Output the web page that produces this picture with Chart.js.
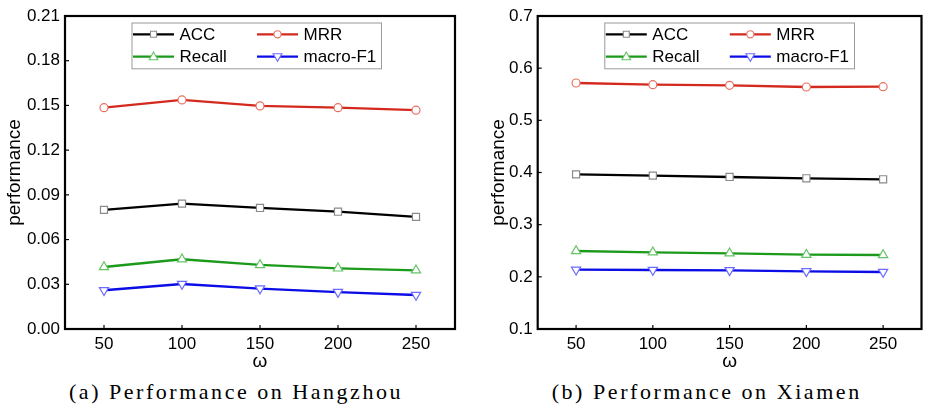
<!DOCTYPE html>
<html><head><meta charset="utf-8">
<script src="https://cdn.jsdelivr.net/npm/chart.js@4"></script>
<style>
html,body{margin:0;padding:0;background:#fff;width:928px;height:410px;overflow:hidden}
.wrap{position:absolute;top:0;width:464px;height:372px}
canvas{display:block}
.cap{position:absolute;font-family:"Liberation Serif","DejaVu Serif",serif;font-size:22px;line-height:22px;white-space:nowrap;color:#000}
</style></head><body>
<div class="wrap" style="left:0"><canvas id="c1" width="464" height="372" style="width:464px;height:372px"></canvas></div>
<div class="wrap" style="left:464px"><canvas id="c2" width="464" height="372" style="width:464px;height:372px"></canvas></div>
<div class="cap" id="cap1">(a) Performance on Hangzhou</div>
<div class="cap" id="cap2">(b) Performance on Xiamen</div>
<script>
// ---- data ----
const xValues = [50, 100, 150, 200, 250];
const seriesNames = ['ACC', 'MRR', 'Recall', 'macro-F1'];

const hzACC    = [0.0799, 0.0841, 0.0812, 0.0787, 0.0752];
const hzMRR    = [0.1485, 0.1537, 0.1497, 0.1485, 0.1468];
const hzRecall = [0.0416, 0.0468, 0.0430, 0.0407, 0.0394];
const hzF1     = [0.0260, 0.0302, 0.0271, 0.0248, 0.0228];

const xmACC    = [0.3965, 0.3939, 0.3914, 0.3889, 0.3870];
const xmMRR    = [0.5716, 0.5684, 0.5672, 0.5639, 0.5645];
const xmRecall = [0.2495, 0.2470, 0.2451, 0.2425, 0.2419];
const xmF1     = [0.2137, 0.2131, 0.2125, 0.2105, 0.2093];

const hzYTicks = [0, 0.03, 0.06, 0.09, 0.12, 0.15, 0.18, 0.21];
const xmYTicks = [0.1, 0.2, 0.3, 0.4, 0.5, 0.6, 0.7];
const xTickLabels = xValues;

const yTitle = 'performance';
const xTitle = 'ω';

// ---- styles ----
const FONT = '"Liberation Sans", Arial, sans-serif';
const styles = {
  'ACC':      {line: '#000000', mk: '#8a8a8a', shape: 'rect',     r: 5,   rot: 0},
  'MRR':      {line: '#d42a1e', mk: '#e8705f', shape: 'circle',   r: 4,   rot: 0},
  'Recall':   {line: '#1c9a1c', mk: '#66c466', shape: 'triangle', r: 5.3, rot: 0},
  'macro-F1': {line: '#0c0ce6', mk: '#6b6bff', shape: 'triangle', r: 5.3, rot: 180}
};

function makeDatasets(arrs) {
  return seriesNames.map((n, i) => {
    const s = styles[n];
    return {
      label: n,
      data: xValues.map((x, j) => ({x: x, y: arrs[i][j]})),
      borderColor: s.line,
      borderWidth: 2.3,
      pointStyle: s.shape,
      pointRadius: s.r,
      pointRotation: s.rot,
      pointBorderColor: s.mk,
      pointBackgroundColor: '#ffffff',
      pointBorderWidth: 1.2,
      tension: 0,
      fill: false
    };
  });
}

function drawMarker(ctx, s, x, y, r) {
  ctx.save();
  ctx.strokeStyle = s.mk; ctx.fillStyle = '#fff'; ctx.lineWidth = 1.1;
  ctx.beginPath();
  if (s.shape === 'rect') {
    ctx.rect(x - r, y - r, 2 * r, 2 * r);
  } else if (s.shape === 'circle') {
    ctx.arc(x, y, r, 0, Math.PI * 2);
  } else {
    const d = s.rot ? -1 : 1;
    ctx.moveTo(x, y - d * r);
    ctx.lineTo(x - r * 0.95, y + d * r * 0.65);
    ctx.lineTo(x + r * 0.95, y + d * r * 0.65);
    ctx.closePath();
  }
  ctx.fill(); ctx.stroke();
  ctx.restore();
}

const decorPlugin = {
  id: 'decor',
  afterDatasetsDraw(chart, args, opts) {
    const ctx = chart.ctx, a = chart.chartArea;
    const xs = chart.scales.x, ys = chart.scales.y;
    ctx.save();
    // inward ticks
    ctx.strokeStyle = '#000'; ctx.lineWidth = 1.2;
    opts.yTicks.forEach(v => {
      const py = ys.getPixelForValue(v);
      ctx.beginPath(); ctx.moveTo(a.left, py); ctx.lineTo(a.left + 4, py); ctx.stroke();
    });
    xValues.forEach(v => {
      const px = xs.getPixelForValue(v);
      ctx.beginPath(); ctx.moveTo(px, a.bottom); ctx.lineTo(px, a.bottom - 4); ctx.stroke();
    });
    // frame
    ctx.lineWidth = 2.2;
    ctx.strokeRect(a.left, a.top, a.right - a.left, a.bottom - a.top);
    // legend
    const L = opts.legend;
    ctx.lineWidth = 1; ctx.strokeStyle = '#9a9a9a';
    ctx.strokeRect(L.x + 0.5, L.y + 0.5, L.w, L.h);
    ctx.font = '17px ' + FONT;
    ctx.textBaseline = 'middle'; ctx.textAlign = 'left';
    const rows = [L.y + 11.8, L.y + 34.2];
    const cols = [L.x + 1.5, L.x + 125.5];
    seriesNames.forEach((n, i) => {
      const s = styles[n];
      const cx = cols[i % 2], cy = rows[Math.floor(i / 2)];
      ctx.strokeStyle = s.line; ctx.lineWidth = 2.3;
      ctx.beginPath(); ctx.moveTo(cx, cy); ctx.lineTo(cx + 41, cy); ctx.stroke();
      drawMarker(ctx, s, cx + 20.5, cy, s.shape === 'circle' ? 3.6 : (s.shape === 'rect' ? 3 : 4.6));
      ctx.fillStyle = '#000';
      ctx.fillText(n, cx + 46.5, cy + 1);
    });
    // axis titles
    ctx.fillStyle = '#000';
    ctx.font = '19px ' + FONT;
    ctx.textAlign = 'center'; ctx.textBaseline = 'middle';
    ctx.save();
    ctx.translate(opts.yTitleX, (a.top + a.bottom) / 2);
    ctx.rotate(-Math.PI / 2);
    ctx.fillText(yTitle, 0, 0);
    ctx.restore();
    ctx.fillText(xTitle, (a.left + a.right) / 2, 362);
    ctx.restore();
  }
};

function makeChart(id, arrs, yTicks, yMin, yMax, dec, yWidth, padRight, legendBox, yTitleX) {
  return new Chart(document.getElementById(id), {
    type: 'line',
    data: {datasets: makeDatasets(arrs)},
    options: {
      responsive: false, animation: false, devicePixelRatio: 1,
      layout: {padding: {top: 16, right: padRight, left: 0, bottom: 0}},
      plugins: {
        legend: {display: false}, tooltip: {enabled: false},
        decor: {yTicks: yTicks, legend: legendBox, yTitleX: yTitleX}
      },
      scales: {
        x: {
          type: 'linear', min: 25, max: 275,
          afterBuildTicks: s => { s.ticks = xTickLabels.map(v => ({value: v})); },
          afterFit: s => { s.height = 43; },
          grid: {display: false, drawTicks: false}, border: {display: false},
          ticks: {padding: 5, color: '#000', font: {family: FONT, size: 17}, maxRotation: 0, autoSkip: false,
                  callback: v => String(v)}
        },
        y: {
          type: 'linear', min: yMin, max: yMax,
          afterBuildTicks: s => { s.ticks = yTicks.map(v => ({value: v})); },
          afterFit: s => { s.width = yWidth; },
          grid: {display: false, drawTicks: false}, border: {display: false},
          ticks: {padding: 5, color: '#000', font: {family: FONT, size: 17}, autoSkip: false,
                  callback: v => Number(v).toFixed(dec)}
        }
      }
    },
    plugins: [decorPlugin]
  });
}

makeChart('c1', [hzACC, hzMRR, hzRecall, hzF1], hzYTicks, 0, 0.21, 2, 65, 9,
          {x: 131.5, y: 22.5, w: 249.5, h: 45.8}, 15);
makeChart('c2', [xmACC, xmMRR, xmRecall, xmF1], xmYTicks, 0.1, 0.7, 1, 73.7, 1.5,
          {x: 140.3, y: 22.5, w: 249.7, h: 45.8}, 35);

// captions
function placeCap(id, left, targetW, baseline) {
  const el = document.getElementById(id);
  const c = document.createElement('canvas').getContext('2d');
  c.font = '22px "Liberation Serif"';
  const txt = el.textContent;
  const w = c.measureText(txt).width;
  const ls = Math.max(0, (targetW - w) / txt.length);
  el.style.letterSpacing = ls + 'px';
  el.style.left = left + 'px';
  el.style.top = (baseline - 18.5) + 'px';
}
placeCap('cap1', 69, 334, 399);
placeCap('cap2', 551.7, 310, 399);
</script>
</body></html>
